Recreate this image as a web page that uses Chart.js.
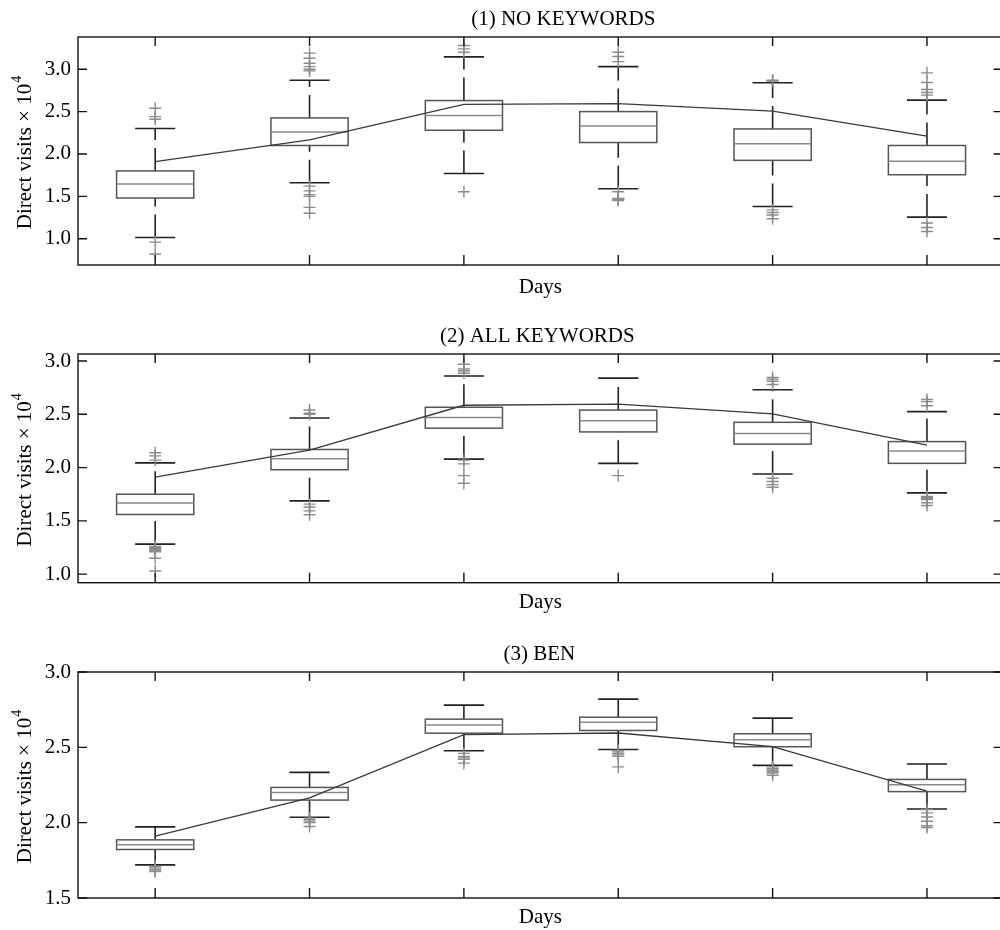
<!DOCTYPE html>
<html>
<head>
<meta charset="utf-8">
<script src="https://cdn.jsdelivr.net/npm/chart.js@4.4.1/dist/chart.umd.min.js"></script>
<style>
  body { margin: 0; background: #fff; }
  #wrap { position: relative; width: 1000px; height: 930px; overflow: hidden; }
  canvas { position: absolute; left: 0; }
</style>
</head>
<body>
<div id="wrap">
  <canvas id="c1" width="1010" height="300" style="top:0"></canvas>
  <canvas id="c2" width="1010" height="315" style="top:300px"></canvas>
  <canvas id="c3" width="1010" height="315" style="top:615px"></canvas>
</div>
<script>
// box positions (days) and the reference trend line shared by all panels
const days = [1, 2, 3, 4, 5, 6];
const trend = [1.91, 2.165, 2.585, 2.595, 2.505, 2.21];

// (1) NO KEYWORDS
const lo1  = [1.015, 1.66, 1.77, 1.59, 1.38, 1.255];
const q1_1 = [1.48, 2.10, 2.28, 2.135, 1.925, 1.755];
const med1 = [1.645, 2.26, 2.455, 2.33, 2.12, 1.915];
const q3_1 = [1.80, 2.425, 2.63, 2.50, 2.295, 2.10];
const hi1  = [2.30, 2.87, 3.145, 3.03, 2.84, 2.635];
const out1 = [
  [2.54, 2.44, 2.41, 0.96, 0.82],
  [3.19, 3.13, 3.07, 3.03, 3.0, 2.98, 1.62, 1.565, 1.52, 1.50, 1.37, 1.30],
  [3.28, 3.24, 3.20, 1.555],
  [3.20, 3.15, 3.09, 1.555, 1.475, 1.47, 1.465, 1.45],
  [2.87, 2.865, 2.86, 1.34, 1.31, 1.28, 1.235],
  [2.957, 2.843, 2.76, 2.726, 2.694, 1.185, 1.133, 1.086]
];

// (2) ALL KEYWORDS
const lo2  = [1.282, 1.688, 2.08, 2.04, 1.94, 1.763];
const q1_2 = [1.56, 1.98, 2.37, 2.335, 2.22, 2.04];
const med2 = [1.667, 2.084, 2.47, 2.44, 2.32, 2.156];
const q3_2 = [1.75, 2.17, 2.566, 2.54, 2.425, 2.244];
const hi2  = [2.044, 2.466, 2.86, 2.84, 2.73, 2.525];
const out2 = [
  [2.14, 2.11, 2.07, 1.26, 1.25, 1.24, 1.23, 1.22, 1.21, 1.15, 1.03],
  [2.54, 2.51, 2.50, 1.657, 1.63, 1.594, 1.557],
  [2.97, 2.925, 2.906, 2.885, 2.07, 2.035, 1.925, 1.853],
  [1.925],
  [2.845, 2.83, 2.81, 2.78, 1.90, 1.87, 1.84, 1.815],
  [2.64, 2.62, 2.58, 1.73, 1.72, 1.71, 1.70, 1.67, 1.645]
];

// (3) BEN
const lo3  = [1.72, 2.036, 2.477, 2.486, 2.38, 2.091];
const q1_3 = [1.822, 2.15, 2.594, 2.612, 2.504, 2.206];
const med3 = [1.853, 2.20, 2.649, 2.667, 2.55, 2.252];
const q3_3 = [1.886, 2.234, 2.687, 2.70, 2.59, 2.287];
const hi3  = [1.972, 2.334, 2.78, 2.82, 2.694, 2.389];
const out3 = [
  [1.71, 1.70, 1.69, 1.68, 1.675],
  [2.03, 2.02, 2.01, 2.0, 1.975],
  [2.46, 2.44, 2.43, 2.42, 2.395],
  [2.48, 2.47, 2.46, 2.45, 2.44, 2.37],
  [2.37, 2.36, 2.35, 2.34, 2.33, 2.315],
  [2.087, 2.065, 2.038, 2.009, 1.98, 1.968]
];

const FONT = "'Liberation Serif', 'Times New Roman', serif";

// draws boxes, whiskers and medians under the datasets, frame + inward ticks + titles on top
const boxPlugin = (stats, title, titleShift) => ({
  id: 'boxes',
  beforeDatasetsDraw(chart) {
    const {ctx, scales: {x, y}} = chart;
    ctx.save();
    days.forEach((d, i) => {
      const cx = x.getPixelForValue(d);
      const b0 = x.getPixelForValue(d - 0.25), b1 = x.getPixelForValue(d + 0.25);
      const c0 = x.getPixelForValue(d - 0.13), c1 = x.getPixelForValue(d + 0.13);
      const pLo = y.getPixelForValue(stats.lo[i]);
      const pQ1 = y.getPixelForValue(stats.q1[i]);
      const pMed = y.getPixelForValue(stats.med[i]);
      const pQ3 = y.getPixelForValue(stats.q3[i]);
      const pHi = y.getPixelForValue(stats.hi[i]);

      // whiskers, dashed, drawn bottom to top
      ctx.strokeStyle = '#222';
      ctx.lineWidth = 1.6;
      ctx.setLineDash([23, 8]);
      ctx.beginPath(); ctx.moveTo(cx, pQ3); ctx.lineTo(cx, pHi); ctx.stroke();
      ctx.beginPath(); ctx.moveTo(cx, pLo); ctx.lineTo(cx, pQ1); ctx.stroke();
      ctx.setLineDash([]);

      // caps
      ctx.beginPath();
      ctx.moveTo(c0, pHi); ctx.lineTo(c1, pHi);
      ctx.moveTo(c0, pLo); ctx.lineTo(c1, pLo);
      ctx.stroke();

      // box
      ctx.fillStyle = '#fff';
      ctx.fillRect(b0, pQ3, b1 - b0, pQ1 - pQ3);
      ctx.strokeStyle = '#555';
      ctx.lineWidth = 1.5;
      ctx.strokeRect(b0, pQ3, b1 - b0, pQ1 - pQ3);

      // median
      ctx.strokeStyle = '#8a8a8a';
      ctx.beginPath(); ctx.moveTo(b0, pMed); ctx.lineTo(b1, pMed); ctx.stroke();
    });
    ctx.restore();
  },
  afterDraw(chart) {
    const {ctx, chartArea: a, scales: {x, y}} = chart;
    ctx.save();
    ctx.strokeStyle = '#111';
    ctx.lineWidth = 1.4;
    ctx.strokeRect(a.left, a.top, a.right - a.left, a.bottom - a.top);
    ctx.beginPath();
    y.ticks.forEach(t => {
      const py = y.getPixelForValue(t.value);
      ctx.moveTo(a.left, py); ctx.lineTo(a.left + 9, py);
      ctx.moveTo(a.right - 9, py); ctx.lineTo(a.right, py);
    });
    days.forEach(d => {
      const px = x.getPixelForValue(d);
      ctx.moveTo(px, a.bottom); ctx.lineTo(px, a.bottom - 10);
      ctx.moveTo(px, a.top); ctx.lineTo(px, a.top + 9);
    });
    ctx.stroke();

    // panel title
    ctx.fillStyle = '#000';
    ctx.font = '21px ' + FONT;
    ctx.textAlign = 'center';
    ctx.textBaseline = 'middle';
    ctx.fillText(title, (a.left + a.right) / 2 + titleShift, a.top - 18);

    // y axis title with superscript exponent
    const main = 'Direct visits \u00d7 10';
    const wMain = ctx.measureText(main).width;
    ctx.font = '14px ' + FONT;
    const wSup = ctx.measureText('4').width;
    ctx.translate(25, (a.top + a.bottom) / 2 + 2);
    ctx.rotate(-Math.PI / 2);
    ctx.textAlign = 'left';
    const start = -(wMain + wSup) / 2;
    ctx.font = '21px ' + FONT;
    ctx.fillText(main, start, 0);
    ctx.font = '14px ' + FONT;
    ctx.fillText('4', start + wMain + 1, -8);
    ctx.restore();
  }
});

function makePanel(id, title, titleShift, yMin, yMax, stats, outliers, padTop, bottomH) {
  const outPts = days.flatMap((d, i) => outliers[i].map(v => ({x: d, y: v})));
  const trendPts = days.map((d, i) => ({x: d, y: trend[i]}));
  return new Chart(document.getElementById(id), {
    type: 'scatter',
    data: {
      datasets: [
        {
          type: 'scatter',
          data: outPts,
          pointStyle: 'cross',
          pointRadius: 6,
          borderColor: '#8c8c8c',
          backgroundColor: '#8c8c8c',
          borderWidth: 1.4
        },
        {
          type: 'line',
          data: trendPts,
          borderColor: '#3a3a3a',
          borderWidth: 1.3,
          pointRadius: 0,
          tension: 0,
          fill: false
        }
      ]
    },
    options: {
      responsive: false,
      animation: false,
      layout: { padding: { top: padTop, right: 6, left: 0, bottom: 0 } },
      plugins: {
        legend: { display: false },
        tooltip: { enabled: false },
        title: { display: false }
      },
      scales: {
        x: {
          type: 'linear',
          min: 0.5,
          max: 6.49,
          grid: { display: false, drawTicks: false },
          border: { display: false },
          ticks: { display: false },
          title: {
            display: true,
            text: 'Days',
            color: '#000',
            font: { family: FONT, size: 21 },
            padding: 0
          },
          afterFit: (s) => { s.height = bottomH; }
        },
        y: {
          min: yMin,
          max: yMax,
          grid: { display: false, drawTicks: false },
          border: { display: false },
          ticks: {
            stepSize: 0.5,
            includeBounds: false,
            padding: 7,
            color: '#000',
            font: { family: FONT, size: 21 },
            callback: (v) => v.toFixed(1)
          },
          afterFit: (s) => { s.width = 78; }
        }
      }
    },
    plugins: [boxPlugin(stats, title, titleShift)]
  });
}

makePanel('c1', '(1) NO KEYWORDS', 23, 0.69, 3.38,
  {lo: lo1, q1: q1_1, med: med1, q3: q3_1, hi: hi1}, out1, 37, 35);
makePanel('c2', '(2) ALL KEYWORDS', -3, 0.92, 3.066,
  {lo: lo2, q1: q1_2, med: med2, q3: q3_2, hi: hi2}, out2, 54, 32.3);
makePanel('c3', '(3) BEN', -1, 1.5, 3.0,
  {lo: lo3, q1: q1_3, med: med3, q3: q3_3, hi: hi3}, out3, 57, 32);
</script>
</body>
</html>
